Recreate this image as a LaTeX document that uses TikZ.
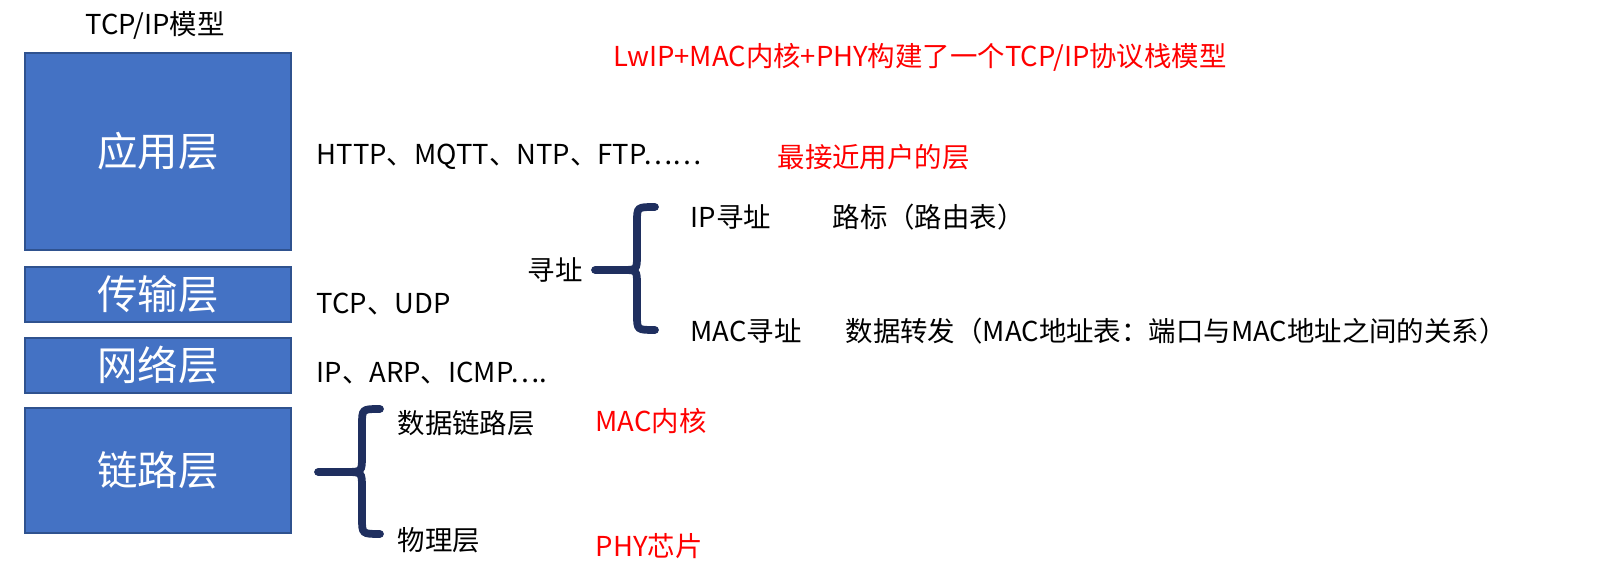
\documentclass[tikz,border=0pt]{standalone}
\usepackage{fontspec}
\setmainfont{Noto Sans CJK SC}
\usetikzlibrary{positioning}
\definecolor{layerblue}{HTML}{4472C4}
\definecolor{layeredge}{HTML}{2F528F}
\definecolor{bracenavy}{HTML}{1F2F5F}
\tikzset{
  layer/.style={draw=layeredge, fill=layerblue, line width=0.8pt, text=white,
    minimum width=2.66cm, inner sep=0pt, font=\fontsize{11.5}{12}\selectfont},
  txt/.style={anchor=west, inner sep=0pt, font=\fontsize{7.8}{8}\selectfont},
  red/.style={txt, text=red},
  bracepath/.style={draw=bracenavy, line width=2.2pt, line cap=round}
}
\begin{document}
\begin{tikzpicture}[x=0.01cm, y=-0.01cm]
      \useasboundingbox (0,0) rectangle (1599,583);
      % layers
      \node[layer, minimum height=1.97cm] (app) at (158,151.5) {应用层};
      \node[layer, minimum height=0.55cm] (trans) at (158,294.5) {传输层};
      \node[layer, minimum height=0.55cm] (net) at (158,365.5) {网络层};
      \node[layer, minimum height=1.25cm] (link) at (158,470.5) {链路层};

      \node[txt, anchor=center] (model) at (155,25) {TCP/IP模型};
      \node[red, anchor=center] (title) at (920,57) {LwIP+MAC内核+PHY构建了一个TCP/IP协议栈模型};

      \node[txt] (http) at (316,157) {HTTP、MQTT、NTP、FTP……};
      \node[red] (user) at (777,157) {最接近用户的层};
      \node[txt] (tcp) at (316,304) {TCP、UDP};
      \node[txt] (ip) at (316,373) {IP、ARP、ICMP….};

      % addressing
      \node[txt] (addr) at (527,270) {寻址};
      \node[txt] (ipaddr) at (690,217) {IP寻址};
      \node[txt] (route) at (832,217) {路标（路由表）};
      \node[txt] (macaddr) at (690,331) {MAC寻址};
      \node[txt] (fwd) at (845,331) {数据转发（MAC地址表：端口与MAC地址之间的关系）};
      \coordinate (b1) at (595,270);
      \draw[bracepath] (b1) -- (622,270) .. controls (637,270) .. (637,255) -- (637,222)
        .. controls (637,207) .. (655,207);
      \draw[bracepath] (622,270) .. controls (637,270) .. (637,285) -- (637,315)
        .. controls (637,330) .. (655,330);

      % link layer
      \node[txt] (dll) at (397,423) {数据链路层};
      \node[red] (mac) at (595,421) {MAC内核};
      \node[txt] (phy) at (397,540) {物理层};
      \node[red] (chip) at (595,546) {PHY芯片};
      \coordinate (b2) at (318,472);
      \draw[bracepath] (b2) -- (345,472) .. controls (362,472) .. (362,456) -- (362,425)
        .. controls (362,409) .. (380,409);
      \draw[bracepath] (345,472) .. controls (362,472) .. (362,488) -- (362,518)
        .. controls (362,534) .. (380,534);
\end{tikzpicture}
\end{document}
